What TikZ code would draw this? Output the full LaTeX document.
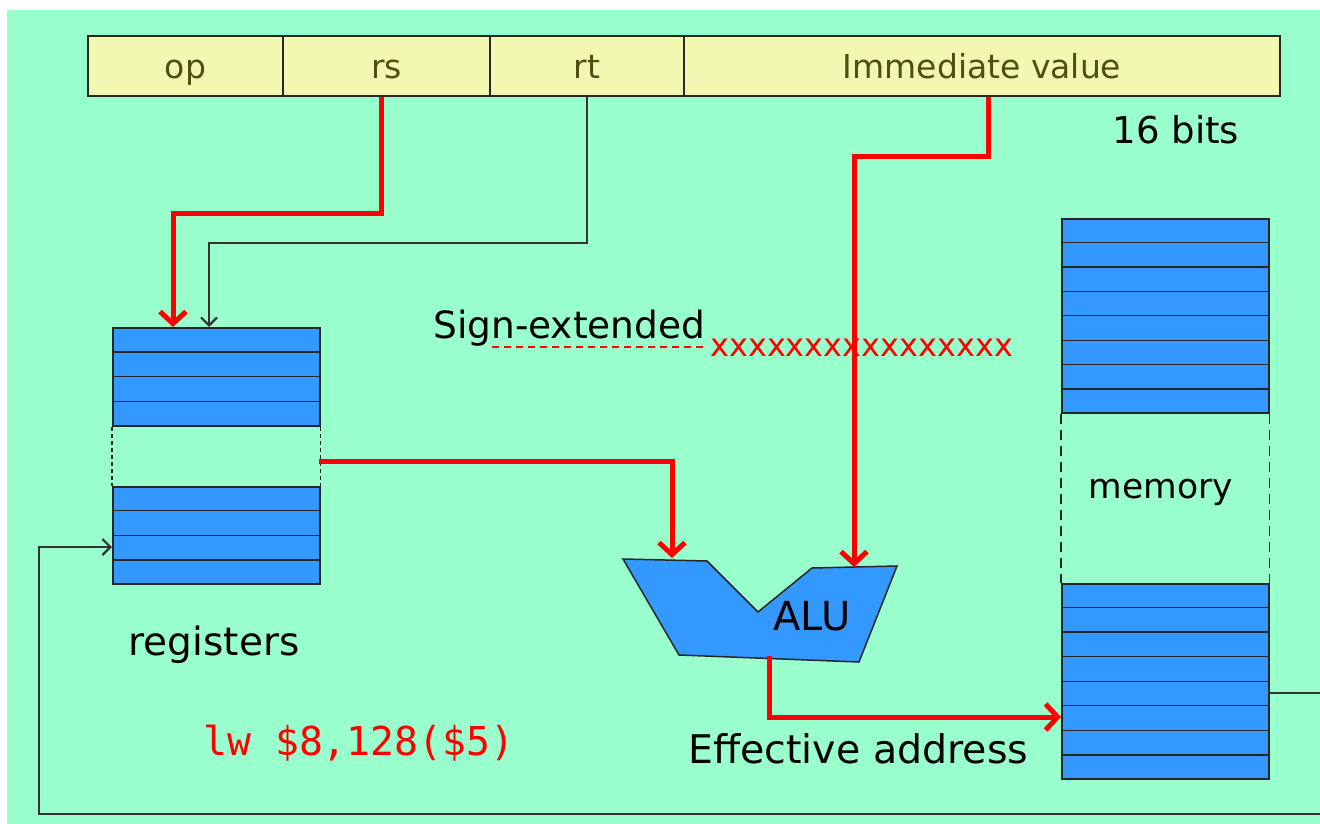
\documentclass[tikz,border=0pt]{standalone}
\usepackage{fontspec}
\setmainfont{DejaVu Sans}
\setmonofont{DejaVu Sans Mono}
\usetikzlibrary{arrows.meta,calc}
\definecolor{bg}{HTML}{99FFCC}
\definecolor{regblue}{HTML}{3399FF}
\definecolor{fieldy}{HTML}{F2F8B2}
\definecolor{fieldtxt}{HTML}{4F4F14}
\newcommand{\fs}[1]{\fontsize{#1}{#1}\selectfont}
\begin{document}
\begin{tikzpicture}[x=1pt,y=-1pt,
  lbl/.style={inner sep=0pt, font=\fs{37}, text=black},
  fld/.style={draw=black!85, line width=1.5pt, fill=fieldy, minimum height=60pt, inner sep=0pt, text height=30pt, text depth=4pt, font=\fs{33}, text=fieldtxt},
  blk/.style={draw=black!85, line width=1.5pt, fill=regblue, inner sep=0pt, anchor=north west, minimum width=207pt},
  rowline/.style={draw=black!85, line width=1.3pt},
  redw/.style={draw=red, line width=5pt},
  redarr/.style={redw, -{Straight Barb[length=12pt,width=26pt]}},
  blkw/.style={draw=black!80, line width=1.5pt},
  blkarr/.style={blkw, -{Straight Barb[length=8pt,width=16pt,line width=2.2pt]}}
]
\useasboundingbox (0,0) rectangle (1320,824);
\fill[white] (0,0) rectangle (1320,824);
\fill[bg] (7,10) rectangle (1320,824);

% instruction fields
\node[fld, minimum width=195pt] (op) at (185.5,66) {op};
\node[fld, minimum width=207pt] (rs) at (386.5,66) {rs};
\node[fld, minimum width=194pt] (rt) at (587,66) {rt};
\node[fld, minimum width=596pt] (imm) at (982,66) {Immediate value};
\node[lbl, anchor=base] (bits) at (1176,144) {16 bits};

% registers
\node[blk, minimum height=98pt] (rega) at (112,327) {};
\node[blk, minimum height=97pt] (regb) at (112,486) {};
\foreach \i in {1,2,3} {
  \draw[rowline] ($(rega.north west)!\i/4!(rega.south west)$) -- ($(rega.north east)!\i/4!(rega.south east)$);
  \draw[rowline] ($(regb.north west)!\i/4!(regb.south west)$) -- ($(regb.north east)!\i/4!(regb.south east)$);
}
\draw[black!85, line width=1.3pt, dash pattern=on 4pt off 3pt] (rega.south west) -- (regb.north west);
\draw[black!85, line width=1.3pt, dash pattern=on 4pt off 3pt] (rega.south east) -- (regb.north east);
\node[lbl, anchor=base, font=\fs{39}] (reglbl) at (214,655) {registers};

% memory
\node[blk, minimum height=194pt] (mema) at (1061,218) {};
\node[blk, minimum height=195pt] (memb) at (1061,583) {};
\foreach \i in {1,...,7} {
  \draw[rowline] ($(mema.north west)!\i/8!(mema.south west)$) -- ($(mema.north east)!\i/8!(mema.south east)$);
  \draw[rowline] ($(memb.north west)!\i/8!(memb.south west)$) -- ($(memb.north east)!\i/8!(memb.south east)$);
}
\draw[black!85, line width=1.6pt, dash pattern=on 10pt off 6pt] (mema.south west) -- (memb.north west);
\draw[black!85, line width=1.6pt, dash pattern=on 10pt off 6pt] (mema.south east) -- (memb.north east);
\node[lbl, anchor=base, font=\fs{34.5}] (memlbl) at (1161,498) {memory};

% ALU
\draw[black!85, line width=1.5pt, fill=regblue] (623,559) -- (707,561) -- (758,612) -- (812,568) -- (897,566) -- (859,662) -- (679,655) -- cycle;
\node[lbl, anchor=base, font=\fs{40}] (alu) at (812,630) {ALU};
\coordinate (aluL) at (672,558);
\coordinate (aluR) at (854,567);
\coordinate (aluout) at (769,656);

% sign extension
\node[lbl, anchor=base west, font=\fs{37.5}] (sign) at (433,338) {Sign-extended};
\draw[red, line width=2pt, dash pattern=on 7pt off 5pt] (492,347) -- (706,347);
\node[inner sep=0pt, anchor=base west, text=red, font=\fs{32}] (xs) at (710,356) {xxxxxxxxxxxxxxxx};

% labels
\node[inner sep=0pt, anchor=base west, text=red, font=\ttfamily\fs{39.8}] (lw) at (203,755) {lw \$8,128(\$5)};
\node[lbl, anchor=base west, font=\fs{39.5}] (ea) at (688,763) {Effective address};

% connectors
\coordinate (rsin) at ($(rega.north west)+(61,0)$);
\coordinate (rtin) at ($(rega.north west)+(97,0)$);
\coordinate (regout) at (319,461);
\coordinate (memin) at (1061,717);
\coordinate (memout) at (1268,693);
\coordinate (regin) at (112,547);
\draw[redarr] ([xshift=-5pt]rs.south) -- ++(0,117) -| (rsin);
\draw[blkarr] (rt.south) -- ++(0,146) -| (rtin);
\draw[redarr] ([xshift=6pt]imm.south) -- ++(0,60) -| (aluR);
\draw[redarr] (regout) -| (aluL);
\draw[redarr] (aluout) |- (memin);
\draw[blkarr] (memout) -- (1330,693) -- (1330,814) -- (39,814) |- (regin);
\end{tikzpicture}
\end{document}
